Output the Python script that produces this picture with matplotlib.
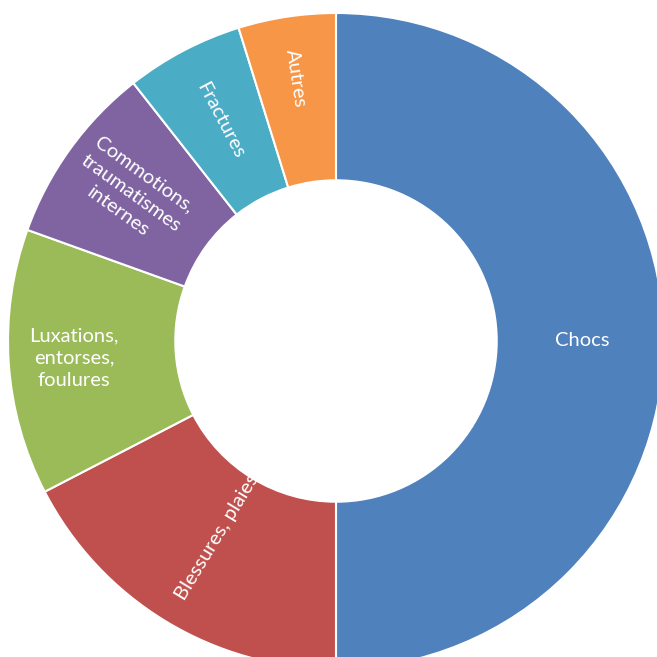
import numpy as np
import matplotlib
matplotlib.use("Agg")
import matplotlib.pyplot as plt

categories = ["Chocs", "Blessures, plaies", "Luxations,\nentorses,\nfoulures",
              "Commotions,\ntraumatismes\ninternes", "Fractures", "Autres"]
values = [50.0, 17.4, 13.1, 8.9, 5.8, 4.8]
colors = ["#4F81BD", "#C0504D", "#9BBB59", "#8064A2", "#4BACC6", "#F79646"]
radial = [False, True, False, True, True, True]
label_r = [0.75, 0.70, 0.80, 0.77, 0.76, 0.81]

fig = plt.figure(figsize=(6.57, 6.57), dpi=100)
ax = fig.add_axes([0, 0, 1, 1])
R = 328.0
cx, cy = 336.0, 341.0
wedges, _ = ax.pie(values, colors=colors, startangle=90, counterclock=False,
                   radius=1.0, wedgeprops=dict(width=0.51, edgecolor="white", linewidth=1.5))
ax.set_xlim(-cx / R, (657 - cx) / R)
ax.set_ylim(-(657 - cy) / R, cy / R)
ax.set_aspect("equal")
ax.axis("off")

total = sum(values)
start = 90.0
for lab, v, rad, rl in zip(categories, values, radial, label_r):
    span = v / total * 360
    mid = (start - span / 2) % 360
    start -= span
    x = rl * np.cos(np.radians(mid))
    y = rl * np.sin(np.radians(mid))
    rot = 0
    if rad:
        rot = mid - 180 if 90 < mid < 270 else mid
        if mid >= 180:
            rot = mid - 180
    ax.text(x, y, lab, color="white", fontsize=14.5, family="Lato",
            ha="center", va="center", rotation=rot, rotation_mode="anchor",
            linespacing=1.4)

fig.savefig("out.png", dpi=100)
